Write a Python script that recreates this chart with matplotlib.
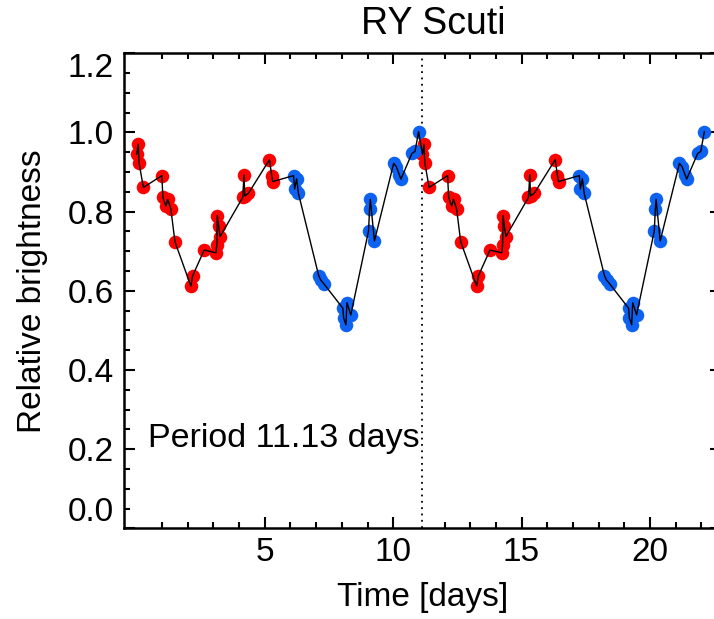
import numpy as np
import matplotlib
matplotlib.use("Agg")
import matplotlib.pyplot as plt
from matplotlib.ticker import FixedLocator

plt.rcParams['font.family'] = ['Liberation Sans', 'DejaVu Sans']

# Folded observations of RY Scuti: time within one period [days] and brightness
period = 11.13
phase_days = [0.01, 0.07, 0.10, 0.27, 0.99, 1.03, 1.15, 1.22, 1.34, 1.50,
              2.12, 2.19, 2.64, 3.10, 3.13, 3.15, 3.20, 3.26, 4.14, 4.19,
              4.22, 4.36, 5.18, 5.27, 5.31, 6.12, 6.16, 6.24, 6.31, 7.10,
              7.18, 7.31, 8.04, 8.07, 8.16, 8.20, 8.35, 9.04, 9.08, 9.11,
              9.27, 10.02, 10.12, 10.24, 10.30, 10.73, 10.85, 10.99]
brightness = [0.945, 0.970, 0.924, 0.861, 0.891, 0.836, 0.814, 0.831, 0.807, 0.724,
              0.612, 0.638, 0.703, 0.696, 0.716, 0.790, 0.764, 0.737, 0.836, 0.893,
              0.840, 0.846, 0.931, 0.891, 0.876, 0.891, 0.857, 0.883, 0.846, 0.638,
              0.627, 0.617, 0.556, 0.531, 0.514, 0.570, 0.539, 0.751, 0.806, 0.831,
              0.726, 0.922, 0.914, 0.893, 0.882, 0.947, 0.952, 1.002]

x_major = [5, 10, 15, 20]
x_minor = [1, 2, 3, 4, 6, 7, 8, 9, 12, 13, 14, 16, 17, 18, 19, 21, 22]
y_major = [0.0, 0.2, 0.4, 0.6, 0.8, 1.0, 1.2]

t1 = np.asarray(phase_days)
b1 = np.asarray(brightness)
# show two consecutive cycles
t = np.concatenate([t1, t1 + period])
b = np.concatenate([b1, b1])
first_half = np.concatenate([t1 < period / 2, t1 < period / 2])

fig = plt.figure(figsize=(7.14, 6.19), dpi=100)
ax = fig.add_axes([0.1731, 0.1465, 0.8364, 0.7674])

ax.scatter(t[first_half], b[first_half], s=95, color='#ff0000', linewidths=0, zorder=2)
ax.scatter(t[~first_half], b[~first_half], s=95, color='#0d62f2', linewidths=0, zorder=2)
ax.plot(t, b, color='black', lw=1.0, zorder=3)
ax.axvline(period, color='black', lw=1.3, linestyle=(0, (1, 2.5)), zorder=1)

ax.text(0.45, 0.228, 'Period 11.13 days', fontsize=24.5, ha='left', va='center')

ax.set_xlim(-0.5, 2 * period + 0.5)
ax.set_ylim(0, 1.2)
ax.xaxis.set_major_locator(FixedLocator(x_major))
ax.xaxis.set_minor_locator(FixedLocator(x_minor))
ax.yaxis.set_major_locator(FixedLocator(y_major))
ax.yaxis.set_minor_locator(FixedLocator(np.arange(0.05, 1.2, 0.05)))
ax.set_yticklabels(['%.1f' % v for v in y_major])

ax.tick_params(which='both', direction='in', top=True, right=True, width=1.5)
ax.tick_params(which='major', length=8, labelsize=24)
ax.tick_params(which='minor', length=4)
ax.tick_params(axis='x', pad=6)
ax.tick_params(axis='y', pad=7)
for s in ax.spines.values():
    s.set_linewidth(1.8)

ylabels = ax.get_yticklabels()
ylabels[0].set_va('bottom')
ylabels[-1].set_va('top')

ax.set_title('RY Scuti', fontsize=27, pad=14, x=0.518)
ax.set_xlabel('Time [days]', fontsize=24, labelpad=10)
ax.set_ylabel('Relative brightness', fontsize=24, labelpad=14)

fig.savefig('out.png', dpi=100)
